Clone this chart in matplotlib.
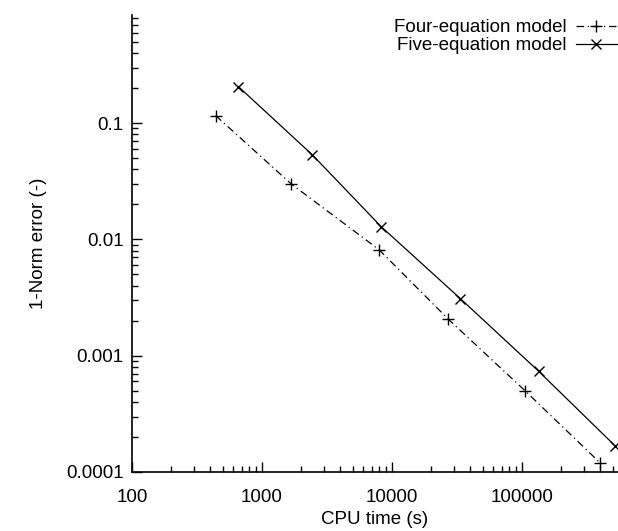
import numpy as np
import matplotlib
matplotlib.use("Agg")
import matplotlib.pyplot as plt
from matplotlib.ticker import LogLocator, FuncFormatter, NullFormatter

plt.rcParams['font.family'] = ['Liberation Sans', 'DejaVu Sans']

# data
four_cpu = [440, 1670, 7940, 27100, 105000, 398000]
four_err = [0.116, 0.0301, 0.00816, 0.00206, 0.000502, 0.000120]
five_cpu = [658, 2440, 8230, 33500, 134000, 519000]
five_err = [0.206, 0.0533, 0.0129, 0.00310, 0.000736, 0.000168]

fs = 13.5

fig = plt.figure(figsize=(6.18, 5.31), dpi=100)
ax = fig.add_axes([132/618, 59/531, 486/618, 457/531])

ax.plot(four_cpu, four_err, color='black', linewidth=0.9, linestyle=(0, (6, 3, 1, 3)),
        marker='+', markersize=8, markeredgewidth=1.0, label="Four-equation model")
ax.plot(five_cpu, five_err, color='black', linewidth=0.9, linestyle='-',
        marker='x', markersize=7, markeredgewidth=1.0, label="Five-equation model")

ax.set_xscale('log')
ax.set_yscale('log')
ax.set_xlim(100, 547000)
ax.set_ylim(0.0001, 0.85)

ax.xaxis.set_major_locator(LogLocator(base=10, numticks=10))
ax.yaxis.set_major_locator(LogLocator(base=10, numticks=10))
ax.xaxis.set_major_formatter(FuncFormatter(lambda v, p: '%d' % round(v)))
ax.yaxis.set_major_formatter(FuncFormatter(lambda v, p: ('%.4f' % v).rstrip('0')))
ax.xaxis.set_minor_locator(LogLocator(base=10, subs=np.arange(2, 10), numticks=20))
ax.yaxis.set_minor_locator(LogLocator(base=10, subs=np.arange(2, 10), numticks=20))
ax.xaxis.set_minor_formatter(NullFormatter())
ax.yaxis.set_minor_formatter(NullFormatter())

ax.tick_params(which='both', direction='in', top=False, right=False, labelsize=fs, width=1.0)
ax.tick_params(which='major', length=7)
ax.tick_params(which='minor', length=4)
ax.tick_params(axis='x', which='major', pad=12)
ax.tick_params(axis='y', which='major', pad=6)

ax.spines['top'].set_visible(False)
ax.spines['right'].set_visible(False)
ax.spines['left'].set_linewidth(1.2)
ax.spines['bottom'].set_linewidth(1.2)

ax.set_xlabel("CPU time (s)", fontsize=fs, labelpad=4)
ax.set_ylabel("1-Norm error (-)", fontsize=fs, labelpad=14)

ax.legend(loc='upper right', bbox_to_anchor=(1.0, 0.966), bbox_transform=fig.transFigure,
          frameon=False, markerfirst=False, fontsize=fs, handlelength=2.2,
          handletextpad=0.5, labelspacing=0.05, borderaxespad=0.0, borderpad=0.05)

plt.savefig("out.png", dpi=100)
